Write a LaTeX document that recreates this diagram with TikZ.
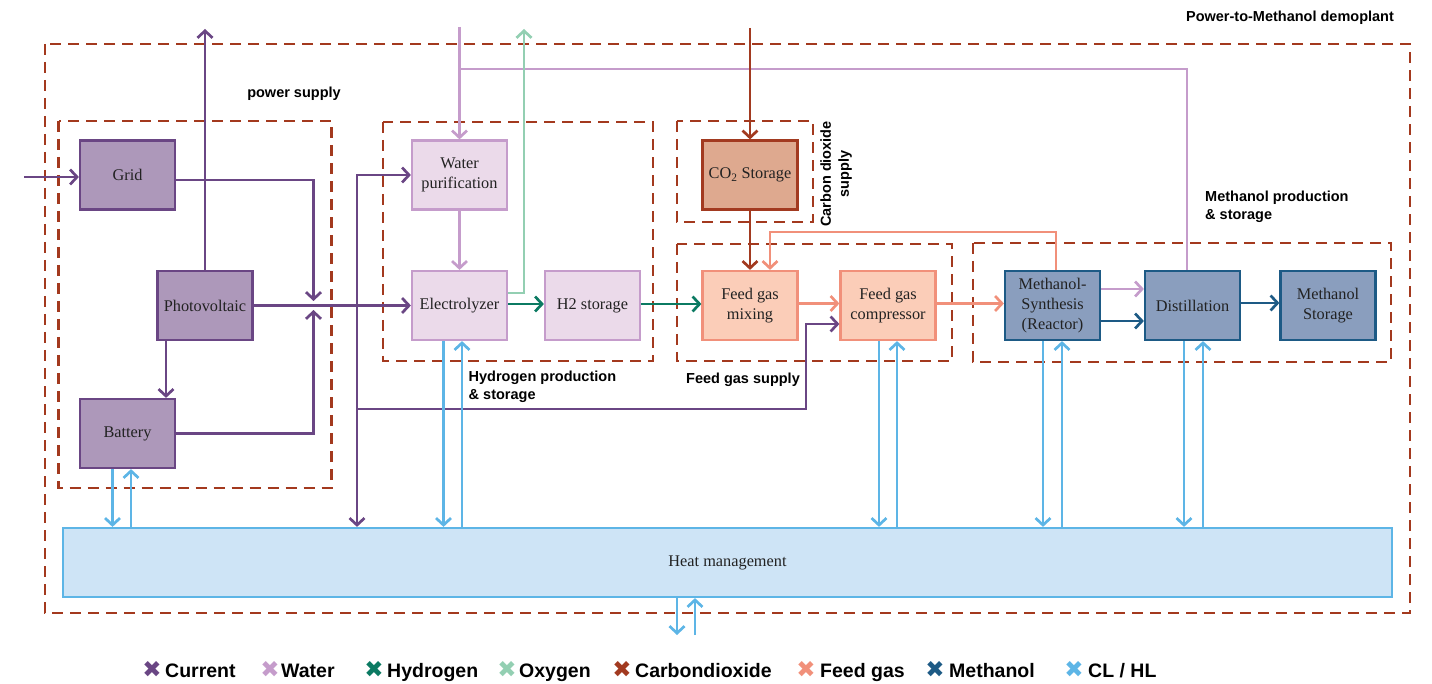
\documentclass[tikz,border=0pt]{standalone}
\usepackage{fontspec}
\setmainfont{Liberation Serif}
\setsansfont{Liberation Sans}
\newfontfamily\mySymFont{DejaVu Sans}
\usetikzlibrary{arrows.meta}
\definecolor{cur}{HTML}{6A4684}
\definecolor{curfill}{HTML}{AD98BA}
\definecolor{wat}{HTML}{C59CCB}
\definecolor{watfill}{HTML}{EBDAEA}
\definecolor{hyd}{HTML}{0B7A62}
\definecolor{oxy}{HTML}{93CFB2}
\definecolor{cod}{HTML}{A23A20}
\definecolor{codfill}{HTML}{DEA98F}
\definecolor{feed}{HTML}{F1907A}
\definecolor{feedfill}{HTML}{FBCDB8}
\definecolor{meth}{HTML}{1D5A85}
\definecolor{methfill}{HTML}{8A9EBE}
\definecolor{heat}{HTML}{5DB5E6}
\definecolor{heatfill}{HTML}{CEE4F6}
\definecolor{grpred}{HTML}{A3391E}
\definecolor{txt}{HTML}{222222}
\newcommand\myNodeFont{\fontsize{16.3}{20}\selectfont}
\newcommand\myLblFont{\sffamily\bfseries\fontsize{14.5}{18}\selectfont}
\newcommand\myLegFont{\sffamily\bfseries\fontsize{19.5}{22}\selectfont}
\tikzset{
  box/.style={draw, line width=2.2pt, minimum width=95pt, minimum height=69pt, inner sep=0pt, align=center, font=\myNodeFont, text=txt},
  curbox/.style={box, draw=cur, fill=curfill},
  watbox/.style={box, draw=wat, fill=watfill},
  codbox/.style={box, draw=cod, fill=codfill},
  feedbox/.style={box, draw=feed, fill=feedfill},
  methbox/.style={box, draw=meth, fill=methfill},
  heatbox/.style={box, draw=heat, fill=heatfill},
  grp/.style={draw=grpred, line width=2.7pt, dash pattern=on 11pt off 7pt},
  lbl/.style={font=\myLblFont, text=black, align=left, inner sep=0pt},
  flw/.style={line width=2.7pt},
  tipA/.style={-{Straight Barb[length=7pt,width=15pt]}},
  curA/.style={flw, draw=cur, tipA},
  curAA/.style={flw, draw=cur, {Straight Barb[length=7pt,width=15pt]}-{Straight Barb[length=7pt,width=15pt]}},
  watL/.style={flw, draw=wat},
  watA/.style={flw, draw=wat, tipA},
  oxyA/.style={flw, draw=oxy, tipA},
  hydA/.style={flw, draw=hyd, tipA},
  codA/.style={flw, draw=cod, tipA},
  feedA/.style={flw, draw=feed, tipA},
  methA/.style={flw, draw=meth, tipA},
  heatA/.style={flw, draw=heat, tipA},
  legmark/.style={font=\mySymFont\fontsize{23}{24}\selectfont, inner sep=0pt, anchor=base},
  legtext/.style={font=\myLegFont, text=black, anchor=base west, inner sep=0pt},
}
\begin{document}
\begin{tikzpicture}[x=1pt,y=-1pt]
\useasboundingbox (0,0) rectangle (1432,684);

% group frames
\draw[grp] (45,44) rectangle (1410,613);
\draw[grp] (58.5,121) rectangle (331.5,488);
\draw[grp] (383,122) rectangle (653,361);
\draw[grp] (677,121) rectangle (813,222);
\draw[grp] (677,244) rectangle (952,361);
\draw[grp] (973,243) rectangle (1391,362);

% group labels
\node[lbl] (tTitle) at (1290,18) {Power-to-Methanol demoplant};
\node[lbl] (tPower) at (294,94) {power supply};
\node[lbl, anchor=west] (tHyd) at (468.5,387) {Hydrogen production\\\& storage};
\node[lbl, align=center, rotate=90] (tCO2) at (836,174) {Carbon dioxide\\supply};
\node[lbl, anchor=west] (tFeed) at (686,380) {Feed gas supply};
\node[lbl, anchor=west] (tMeth) at (1205,207) {Methanol production\\\& storage};

% boxes
\node[curbox] (grid) at (127.5,175) {Grid};
\node[curbox] (pv) at (205,305.5) {Photovoltaic};
\node[curbox] (bat) at (127.5,433.5) {Battery};
\node[watbox] (wp) at (459.5,175) {Water\\purification};
\node[watbox] (el) at (459.5,305.5) {Electrolyzer};
\node[watbox] (h2) at (592.5,305.5) {H2 storage};
\node[codbox] (co2) at (750,175) {CO\textsubscript{2} Storage};
\node[feedbox] (mix) at (750,305.5) {Feed gas\\mixing};
\node[feedbox] (comp) at (888,305.5) {Feed gas\\compressor};
\node[methbox] (reac) at (1052.5,305.5) {Methanol-\\Synthesis\\(Reactor)};
\node[methbox] (dist) at (1192.5,305.5) {Distillation};
\node[methbox] (mst) at (1328,305.5) {Methanol\\Storage};
\node[heatbox, minimum width=1329pt] (heat) at (727.5,562.5) {Heat management};

% current
\coordinate (gridin) at (24,177);
\draw[curA] (gridin) -- (gridin -| grid.west);
\coordinate (pvout) at (205,29);
\draw[curA] (pv.north) -- (pvout);
\coordinate (jd) at (313.5,301);
\coordinate (ju) at (313.5,310);
\draw[curA] ([yshift=-5pt]grid.east) -| (jd);
\draw[curA] (bat.east) -| (ju);
\draw[curA] (pv.east) -- (el.west);
\coordinate (bx) at (166,360);
\draw[curA] (pv.south -| bx) -- (bat.north -| bx);
\coordinate (bus) at (357,300);
\draw[curAA] (heat.north -| bus) |- (wp.west);
\coordinate (br) at (357,409);
\coordinate (bk) at (806,409);
\draw[curA] (br) -- (bk) |- ([yshift=-18.5pt]comp.west);

% water
\coordinate (win) at (459.5,27);
\draw[watA] (win) -- (wp.north);
\coordinate (wb) at (459.5,69);
\draw[watL] (wb) -| ([xshift=-5.5pt]dist.north);
\draw[watA] (wp.south) -- (el.north);
\draw[watA] ([yshift=16.5pt]reac.east) -- ([yshift=16.5pt]dist.west);

% oxygen
\coordinate (oxo) at (524,29);
\draw[oxyA] ([yshift=12.5pt]el.east) -| (oxo);

% hydrogen
\draw[hydA] ([yshift=1.5pt]el.east) -- ([yshift=1.5pt]h2.west);
\draw[hydA] ([yshift=1.5pt]h2.east) -- ([yshift=1.5pt]mix.west);

% carbon dioxide
\coordinate (cin) at (750,28);
\draw[codA] (cin) -- (co2.north);
\draw[codA] (co2.south) -- (mix.north);

% feed gas
\draw[feedA] ([yshift=2pt]mix.east) -- ([yshift=2pt]comp.west);
\draw[feedA] ([yshift=2pt]comp.east) -- ([yshift=2pt]reac.west);
\draw[feedA] ([xshift=3.5pt]reac.north) -- ++(0,-38) -| ([xshift=20pt]mix.north);

% methanol
\draw[methA] ([yshift=-15.5pt]reac.east) -- ([yshift=-15.5pt]dist.west);
\draw[methA] ([yshift=2.5pt]dist.east) -- ([yshift=2.5pt]mst.west);

% cooling / heating
\draw[heatA] ([xshift=-15pt]bat.south) -- ([xshift=-15pt]bat.south |- heat.north);
\draw[heatA] ([xshift=3.5pt]bat.south |- heat.north) -- ([xshift=3.5pt]bat.south);
\draw[heatA] ([xshift=-16pt]el.south) -- ([xshift=-16pt]el.south |- heat.north);
\draw[heatA] ([xshift=2.5pt]el.south |- heat.north) -- ([xshift=2.5pt]el.south);
\draw[heatA] ([xshift=-9pt]comp.south) -- ([xshift=-9pt]comp.south |- heat.north);
\draw[heatA] ([xshift=9pt]comp.south |- heat.north) -- ([xshift=9pt]comp.south);
\draw[heatA] ([xshift=-9.5pt]reac.south) -- ([xshift=-9.5pt]reac.south |- heat.north);
\draw[heatA] ([xshift=9.5pt]reac.south |- heat.north) -- ([xshift=9.5pt]reac.south);
\draw[heatA] ([xshift=-8.5pt]dist.south) -- ([xshift=-8.5pt]dist.south |- heat.north);
\draw[heatA] ([xshift=10.5pt]dist.south |- heat.north) -- ([xshift=10.5pt]dist.south);
\coordinate (hb1) at (677,635);
\coordinate (hb2) at (695,635);
\draw[heatA] (heat.south -| hb1) -- (hb1);
\draw[heatA] (hb2) -- (heat.south -| hb2);

% legend
\node[legmark, text=cur] (m1) at (152,677) {✖};
\node[legtext] (l1) at (165,677) {Current};
\node[legmark, text=wat] (m2) at (270,677) {✖};
\node[legtext] (l2) at (281,677) {Water};
\node[legmark, text=hyd] (m3) at (374,677) {✖};
\node[legtext] (l3) at (387,677) {Hydrogen};
\node[legmark, text=oxy] (m4) at (507,677) {✖};
\node[legtext] (l4) at (519,677) {Oxygen};
\node[legmark, text=cod] (m5) at (622,677) {✖};
\node[legtext] (l5) at (635,677) {Carbondioxide};
\node[legmark, text=feed] (m6) at (806,677) {✖};
\node[legtext] (l6) at (820,677) {Feed gas};
\node[legmark, text=meth] (m7) at (935,677) {✖};
\node[legtext] (l7) at (949,677) {Methanol};
\node[legmark, text=heat] (m8) at (1074,677) {✖};
\node[legtext] (l8) at (1088,677) {CL / HL};
\end{tikzpicture}
\end{document}
